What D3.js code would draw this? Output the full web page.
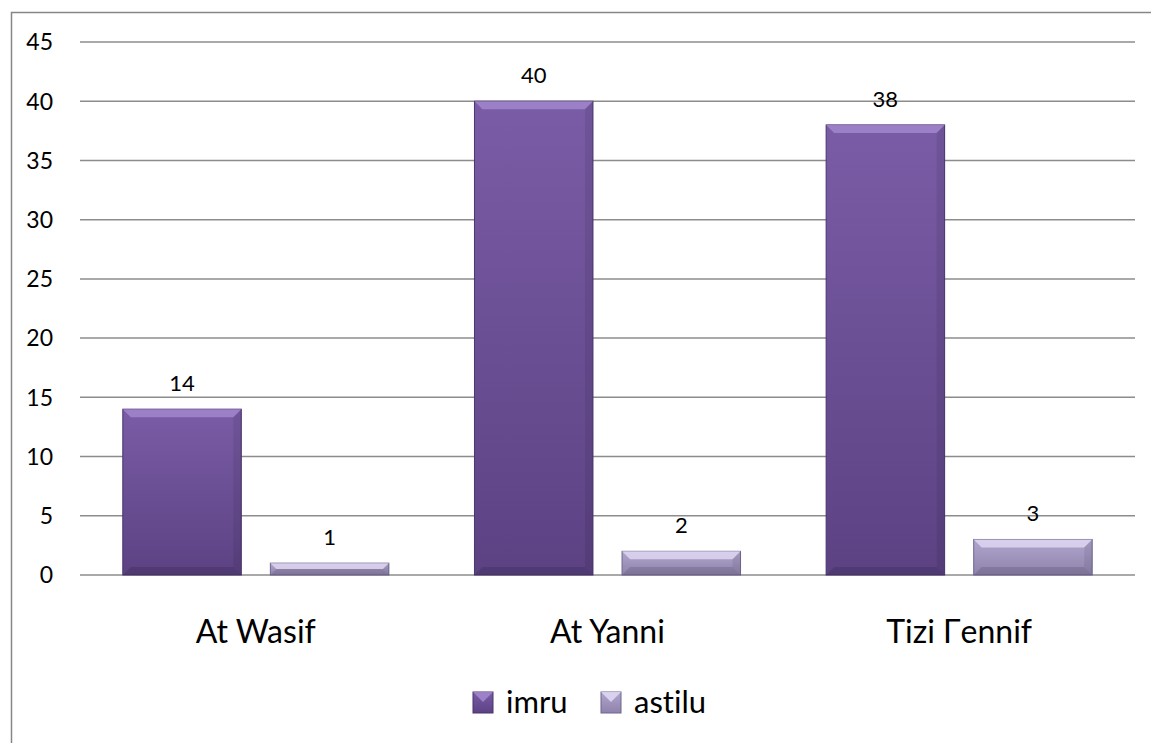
<!DOCTYPE html>
<html>
<head>
<meta charset="utf-8">
<script src="https://cdn.jsdelivr.net/npm/d3@7"></script>
<style>
  body { margin: 0; background: #fff; }
  text { font-family: Lato, "Open Sans", sans-serif; fill: #000; font-variant-ligatures: none; }
</style>
</head>
<body>
<script>

var categories = ["At Wasif", "At Yanni", "Tizi \u0393ennif"];
var seriesNames = ["imru", "astilu"];
var imru = [14, 40, 38];
var astilu = [1, 2, 3];
var yTicks = [0, 5, 10, 15, 20, 25, 30, 35, 40, 45];

var width = 1151, height = 743;

var svg = d3.select("body").append("svg").attr("width", width).attr("height", height);

// gradients for bars and legend keys
var defs = svg.append("defs");
var colors = {
    imru: ["#7a5ca6", "#5c4283"],
    astilu: ["#b0a6cc", "#8f82ad"]
};
var edge = {imru: "#4a346c", astilu: "#6f6590"};
var light = {imru: "#a58ad0", astilu: "#e2daf4"};

seriesNames.forEach(function (s) {
    var g = defs.append("linearGradient").attr("id", "grad-" + s)
        .attr("x1", 0).attr("y1", 0).attr("x2", 0).attr("y2", 1);
    g.append("stop").attr("offset", "0%").attr("stop-color", colors[s][0]);
    g.append("stop").attr("offset", "100%").attr("stop-color", colors[s][1]);
});

// outer frame (right side runs off the page)
svg.append("rect")
    .attr("x", 11.5).attr("y", 12.5)
    .attr("width", width + 20).attr("height", height)
    .attr("fill", "none").attr("stroke", "#868686").attr("stroke-width", 1.5);

var margin = {left: 80, right: 16, top: 42, bottom: 168};
var plotW = width - margin.left - margin.right;
var plotH = height - margin.top - margin.bottom;

var chart = svg.append("g").attr("transform", "translate(" + margin.left + "," + margin.top + ")");

// SCALES
var yScale = d3.scaleLinear().domain([0, 45]).range([plotH, 0]);
var xScale = d3.scaleBand().domain(categories).range([0, plotW]).padding(0);
var xInner = d3.scaleBand().domain(seriesNames).range([0, xScale.bandwidth()])
    .paddingInner(0.197).paddingOuter(0.29);

// gridlines
chart.append("g").selectAll("line").data(yTicks).enter().append("line")
    .attr("x1", 0).attr("x2", plotW)
    .attr("y1", function (d) { return yScale(d); })
    .attr("y2", function (d) { return yScale(d); })
    .attr("stroke", "#8c8c8c").attr("stroke-width", 1.5);

// y labels
chart.append("g").selectAll("text").data(yTicks).enter().append("text")
    .attr("x", -27).attr("y", function (d) { return yScale(d); })
    .attr("dy", "0.36em").attr("text-anchor", "end")
    .style("font-size", "23px")
    .text(function (d) { return d; });

// bars
var rows = [];
categories.forEach(function (c, i) {
    rows.push({cat: c, s: "imru", v: imru[i]});
    rows.push({cat: c, s: "astilu", v: astilu[i]});
});

var bar = chart.append("g").selectAll("g").data(rows).enter().append("g")
    .attr("transform", function (d) { return "translate(" + (xScale(d.cat) + xInner(d.s)) + ",0)"; });

var bw = xInner.bandwidth();

bar.append("rect")
    .attr("x", 0).attr("y", function (d) { return yScale(d.v); })
    .attr("width", bw).attr("height", function (d) { return plotH - yScale(d.v); })
    .attr("fill", function (d) { return "url(#grad-" + d.s + ")"; })
    .attr("stroke", function (d) { return edge[d.s]; })
    .attr("stroke-width", 1);

// bevel: light top edge
bar.append("path")
    .attr("d", function (d) {
        var y0 = yScale(d.v), h = plotH - y0;
        var b = Math.min(8, h / 2);
        return "M0," + y0 + "L" + bw + "," + y0 + "L" + (bw - b) + "," + (y0 + b) + "L" + b + "," + (y0 + b) + "Z";
    })
    .attr("fill", function (d) { return light[d.s]; })
    .attr("opacity", 0.8);

// bevel: darker right and bottom edges
bar.append("path")
    .attr("d", function (d) {
        var y0 = yScale(d.v), h = plotH - y0;
        var b = Math.min(8, h / 2);
        return "M" + bw + "," + y0 + "L" + bw + "," + plotH + "L" + (bw - b) + "," + (plotH - b) + "L" + (bw - b) + "," + (y0 + b) + "Z";
    })
    .attr("fill", "#000").attr("opacity", 0.08);

bar.append("path")
    .attr("d", function (d) {
        var y0 = yScale(d.v), h = plotH - y0;
        var b = Math.min(8, h / 2);
        return "M0," + plotH + "L" + bw + "," + plotH + "L" + (bw - b) + "," + (plotH - b) + "L" + b + "," + (plotH - b) + "Z";
    })
    .attr("fill", "#000").attr("opacity", 0.12);

// value labels
bar.append("text")
    .attr("x", bw / 2).attr("y", function (d) { return yScale(d.v) - 18; })
    .attr("text-anchor", "middle")
    .style("font-size", "22px")
    .text(function (d) { return d.v; });

// category labels
chart.append("g").selectAll("text").data(categories).enter().append("text")
    .attr("x", function (d) { return xScale(d) + xScale.bandwidth() / 2; })
    .attr("y", plotH + 68)
    .attr("text-anchor", "middle")
    .style("font-size", "32px")
    .text(function (d) { return d; });

// legend
var legend = svg.append("g").attr("transform", "translate(473,713)");
var legendX = [0, 128];
seriesNames.forEach(function (s, i) {
    var lg = legend.append("g").attr("transform", "translate(" + legendX[i] + ",0)");
    lg.append("rect").attr("x", 0).attr("y", -21).attr("width", 20).attr("height", 21)
        .attr("fill", "url(#grad-" + s + ")")
        .attr("stroke", edge[s]);
    lg.append("path").attr("d", "M0,-21L20,-21L10,-11Z")
        .attr("fill", light[s]).attr("opacity", 0.85);
    lg.append("text").attr("x", 33).attr("y", 0)
        .style("font-size", "31px").text(s);
});

</script>
</body>
</html>
